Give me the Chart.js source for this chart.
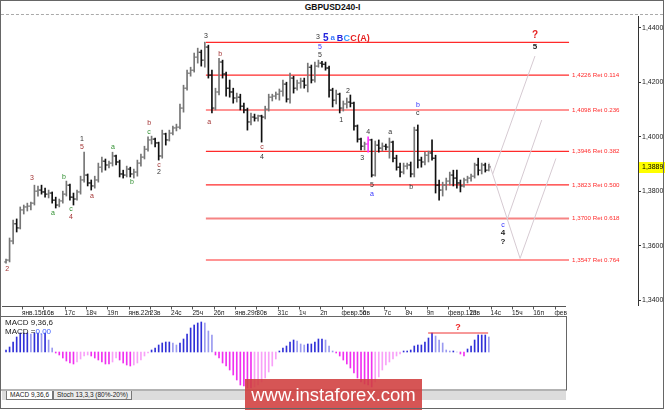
<!DOCTYPE html>
<html>
<head>
<meta charset="utf-8">
<script src="https://cdn.jsdelivr.net/npm/chart.js@4.4.1/dist/chart.umd.min.js"></script>
<style>
    html, body { margin: 0; padding: 0; background: #fff; }
    #wrap { position: relative; width: 665px; height: 410px; overflow: hidden; background: #fff; font-family: "Liberation Sans", Arial, sans-serif; }
    canvas { position: absolute; display: block; }
    #mainChart { left: 0; top: 15px; width: 665px; height: 291px; }
    #macdChart { left: 0; top: 305px; width: 567px; height: 86px; }
    #title { position: absolute; left: 0; top: 2px; width: 665px; text-align: center; font-weight: bold; font-size: 8.5px; color: #111; }
    #dash { position: absolute; left: 1px; top: 14px; width: 662px; border-top: 1px dashed #aaa; }
    #frame { position: absolute; left: 0; top: 0; width: 662px; height: 407px; border: 1px solid #666; }
    .macdTxt { position: absolute; left: 5px; font-size: 8px; color: #222; white-space: nowrap; }
    .macdTxt span { color: #3a5cff; }
    #tabs { position: absolute; left: 2px; top: 391px; width: 564px; height: 9px; background: #dcdcdc; font-size: 6.5px; line-height: 8px; white-space: nowrap; }
    .tab { display: inline-block; height: 8px; padding: 0 3px; border: 1px solid #777; border-top: none; background: #ececec; color: #222; vertical-align: top; }
    .tab.on { background: #fff; margin-left: 4px; }
    #wm { position: absolute; left: 245px; top: 379px; width: 177px; height: 31px; background: rgba(208, 62, 62, 0.88); color: #fff; font-size: 18.5px; line-height: 31px; text-align: center; }
</style>
</head>
<body>
<div id="wrap">
    <div id="title">GBPUSD240-I</div>
    <div id="dash"></div>
    <canvas id="mainChart" width="665" height="291"></canvas>
    <canvas id="macdChart" width="567" height="86"></canvas>
    <div class="macdTxt" style="top:318px">MACD 9,36,6</div>
    <div class="macdTxt" style="top:327px">MACD =<span>0,00</span></div>
    <div id="tabs"><span class="tab on">MACD 9,36,6</span><span class="tab">Stoch 13,3,3 (80%-20%)</span></div>
    <div id="wm">www.instaforex.com</div>
    <div id="frame"></div>
</div>
<script>
const FONT = '"Liberation Sans", Arial, sans-serif';

// 4h bars, first one is the 2nd bar of Jan 12 (bar index -5, Jan 15 00:00 = 0)
const FIRST_BAR = -5;

const opens = [
    1.3540, 1.3547, 1.3617, 1.3680, 1.3665,
    1.3731, 1.3742, 1.3745, 1.3756, 1.3800, 1.3804,
    1.3797, 1.3789, 1.3793, 1.3767, 1.3749, 1.3764,
    1.3789, 1.3822, 1.3778, 1.3771, 1.3797, 1.3841,
    1.3859, 1.3830, 1.3819, 1.3841, 1.3888, 1.3910,
    1.3896, 1.3903, 1.3929, 1.3907, 1.3863, 1.3859,
    1.3881, 1.3863, 1.3870, 1.3903, 1.3925, 1.3954,
    1.3988, 1.3991, 1.3977, 1.3929, 1.4010, 1.3988,
    1.4013, 1.4032, 1.4035, 1.4105, 1.4178, 1.4233,
    1.4244, 1.4292, 1.4310, 1.4281, 1.4329, 1.4226,
    1.4105, 1.4164, 1.4274, 1.4230, 1.4178, 1.4164,
    1.4142, 1.4145, 1.4112, 1.4098, 1.4054, 1.4072,
    1.4068, 1.4076, 1.4072, 1.4101, 1.4145, 1.4149,
    1.4156, 1.4167, 1.4193, 1.4138, 1.4215, 1.4178,
    1.4197, 1.4204, 1.4189, 1.4255, 1.4208, 1.4259,
    1.4270, 1.4266, 1.4252, 1.4171, 1.4134, 1.4156,
    1.4105, 1.4120, 1.4127, 1.4123, 1.4039, 1.3991,
    1.3965, 1.3973, 1.3988, 1.3859, 1.3969, 1.3958,
    1.3965, 1.3962, 1.3980, 1.3921, 1.3888, 1.3870,
    1.3892, 1.3896, 1.3863, 1.4024, 1.3914, 1.3907,
    1.3932, 1.3940, 1.3921, 1.3822, 1.3804, 1.3822,
    1.3837, 1.3859, 1.3848, 1.3830, 1.3819, 1.3841,
    1.3848, 1.3855, 1.3896, 1.3877, 1.3896, 1.3877
];
const highs = [
    1.3551, 1.3628, 1.3694, 1.3698, 1.3742,
    1.3749, 1.3756, 1.3760, 1.3822, 1.3819, 1.3822,
    1.3811, 1.3804, 1.3797, 1.3778, 1.3771, 1.3800,
    1.3837, 1.3826, 1.3793, 1.3804, 1.3855, 1.3943,
    1.3863, 1.3841, 1.3855, 1.3903, 1.3925, 1.3918,
    1.3910, 1.3943, 1.3932, 1.3914, 1.3877, 1.3892,
    1.3888, 1.3881, 1.3914, 1.3936, 1.3965, 1.3999,
    1.4002, 1.3995, 1.3980, 1.4024, 1.4013, 1.4024,
    1.4039, 1.4046, 1.4120, 1.4189, 1.4244, 1.4255,
    1.4307, 1.4325, 1.4318, 1.4347, 1.4336, 1.4244,
    1.4178, 1.4288, 1.4281, 1.4237, 1.4208, 1.4178,
    1.4160, 1.4156, 1.4123, 1.4105, 1.4087, 1.4083,
    1.4079, 1.4079, 1.4112, 1.4156, 1.4156, 1.4164,
    1.4175, 1.4208, 1.4200, 1.4233, 1.4222, 1.4208,
    1.4215, 1.4215, 1.4270, 1.4263, 1.4274, 1.4281,
    1.4277, 1.4274, 1.4259, 1.4178, 1.4171, 1.4160,
    1.4131, 1.4142, 1.4153, 1.4127, 1.4043, 1.3995,
    1.3980, 1.3999, 1.3991, 1.3984, 1.3988, 1.3977,
    1.3973, 1.3995, 1.3984, 1.3932, 1.3903, 1.3903,
    1.3903, 1.3907, 1.4035, 1.4043, 1.3925, 1.3943,
    1.3947, 1.3988, 1.3932, 1.3841, 1.3833, 1.3848,
    1.3870, 1.3877, 1.3877, 1.3841, 1.3848, 1.3855,
    1.3863, 1.3903, 1.3921, 1.3903, 1.3903, 1.3899
];
const lows = [
    1.3536, 1.3540, 1.3606, 1.3650, 1.3661,
    1.3716, 1.3727, 1.3731, 1.3749, 1.3782, 1.3789,
    1.3778, 1.3775, 1.3756, 1.3738, 1.3742, 1.3756,
    1.3782, 1.3767, 1.3749, 1.3767, 1.3789, 1.3833,
    1.3819, 1.3804, 1.3811, 1.3833, 1.3870, 1.3877,
    1.3885, 1.3892, 1.3896, 1.3852, 1.3848, 1.3852,
    1.3852, 1.3848, 1.3855, 1.3892, 1.3918, 1.3947,
    1.3973, 1.3962, 1.3914, 1.3921, 1.3969, 1.3984,
    1.4006, 1.4021, 1.4028, 1.4090, 1.4171, 1.4222,
    1.4237, 1.4270, 1.4259, 1.4255, 1.4215, 1.4087,
    1.4098, 1.4153, 1.4215, 1.4149, 1.4145, 1.4123,
    1.4127, 1.4098, 1.4087, 1.4024, 1.4043, 1.4057,
    1.4057, 1.3980, 1.4065, 1.4094, 1.4131, 1.4138,
    1.4134, 1.4149, 1.4127, 1.4123, 1.4160, 1.4171,
    1.4178, 1.4178, 1.4164, 1.4197, 1.4200, 1.4255,
    1.4255, 1.4244, 1.4145, 1.4109, 1.4120, 1.4087,
    1.4094, 1.4105, 1.4109, 1.4024, 1.3980, 1.3951,
    1.3951, 1.3943, 1.3852, 1.3855, 1.3943, 1.3947,
    1.3951, 1.3921, 1.3907, 1.3877, 1.3852, 1.3863,
    1.3881, 1.3852, 1.3852, 1.3885, 1.3888, 1.3896,
    1.3907, 1.3914, 1.3793, 1.3767, 1.3782, 1.3804,
    1.3822, 1.3819, 1.3811, 1.3797, 1.3815, 1.3830,
    1.3837, 1.3848, 1.3859, 1.3863, 1.3870, 1.3874
];
const closes = [
    1.3547, 1.3617, 1.3680, 1.3665, 1.3731,
    1.3742, 1.3745, 1.3756, 1.3800, 1.3804, 1.3797,
    1.3789, 1.3793, 1.3767, 1.3749, 1.3764, 1.3789,
    1.3822, 1.3778, 1.3771, 1.3797, 1.3841, 1.3859,
    1.3830, 1.3819, 1.3841, 1.3888, 1.3910, 1.3896,
    1.3903, 1.3929, 1.3907, 1.3863, 1.3859, 1.3881,
    1.3863, 1.3870, 1.3903, 1.3925, 1.3954, 1.3988,
    1.3991, 1.3977, 1.3929, 1.4010, 1.3988, 1.4013,
    1.4032, 1.4035, 1.4105, 1.4178, 1.4233, 1.4244,
    1.4292, 1.4310, 1.4281, 1.4329, 1.4226, 1.4105,
    1.4164, 1.4274, 1.4230, 1.4178, 1.4164, 1.4142,
    1.4145, 1.4112, 1.4098, 1.4054, 1.4072, 1.4068,
    1.4076, 1.4072, 1.4101, 1.4145, 1.4149, 1.4156,
    1.4167, 1.4193, 1.4138, 1.4215, 1.4178, 1.4197,
    1.4204, 1.4189, 1.4255, 1.4208, 1.4259, 1.4270,
    1.4266, 1.4252, 1.4171, 1.4134, 1.4156, 1.4105,
    1.4120, 1.4127, 1.4123, 1.4039, 1.3991, 1.3965,
    1.3973, 1.3988, 1.3859, 1.3969, 1.3958, 1.3965,
    1.3962, 1.3980, 1.3921, 1.3888, 1.3870, 1.3892,
    1.3896, 1.3863, 1.4024, 1.3914, 1.3907, 1.3932,
    1.3940, 1.3921, 1.3822, 1.3804, 1.3822, 1.3837,
    1.3859, 1.3848, 1.3830, 1.3819, 1.3841, 1.3848,
    1.3855, 1.3896, 1.3877, 1.3896, 1.3877, 1.3889
];
const macdValues = [
    0.0002, 0.0005, 0.0010, 0.0015, 0.0019,
    0.0019, 0.0019, 0.0018, 0.0019, 0.0019, 0.0018,
    0.0019, 0.0012, 0.0004, -0.0001, -0.0003, -0.0006,
    -0.0009, -0.0011, -0.0012, -0.0010, -0.0007, -0.0004,
    -0.0003, -0.0004, -0.0006, -0.0008, -0.0010, -0.0012,
    -0.0012, -0.0010, -0.0006, -0.0008, -0.0011, -0.0013,
    -0.0014, -0.0013, -0.0011, -0.0008, -0.0004, -0.0001,
    0.0002, 0.0004, 0.0007, 0.0009, 0.0010, 0.0010,
    0.0009, 0.0007, 0.0009, 0.0013, 0.0018, 0.0024,
    0.0027, 0.0029, 0.0030, 0.0029, 0.0021, 0.0017,
    -0.0003, -0.0006, -0.0011, -0.0014, -0.0018, -0.0023,
    -0.0028, -0.0033, -0.0034, -0.0036, -0.0036, -0.0035,
    -0.0033, -0.0030, -0.0026, -0.0020, -0.0014, -0.0007,
    0.0001, 0.0004, 0.0006, 0.0010, 0.0012, 0.0011,
    0.0008, 0.0007, 0.0008, 0.0008, 0.0010, 0.0013,
    0.0013, 0.0012, 0.0006, 0.0001, -0.0001, -0.0004,
    -0.0008, -0.0012, -0.0016, -0.0021, -0.0026, -0.0030,
    -0.0032, -0.0033, -0.0035, -0.0030, -0.0025, -0.0018,
    -0.0013, -0.0010, -0.0007, -0.0004, -0.0002, 0.0001,
    0.0001, 0.0002, 0.0006, 0.0007, 0.0007, 0.0010,
    0.0014, 0.0019, 0.0016, 0.0012, 0.0009, 0.0002,
    0.0001, 0.0001, 0.0000, -0.0002, -0.0004, 0.0003,
    0.0006, 0.0012, 0.0017, 0.0017, 0.0017, 0.0015
];

// one tick per trading day (6 bars)
const dayTicks = [0, 6, 12, 18, 24, 30, 36, 42, 48, 54, 60, 66, 72, 78, 84, 90, 96, 102, 108, 114, 120, 126, 132, 138, 144, 150];
const dayLabels = ['янв.15п', '16в', '17с', '18ч', '19п', 'янв.22п', '23в', '24с', '25ч', '26п', 'янв.29п', '30в', '31с', '1ч', '2п',
    'февр.5п', '6в', '7с', '8ч', '9п', 'февр.12п', '13в', '14с', '15ч', '16п', 'февр.19п'];
const priceTicks = [1.34, 1.36, 1.38, 1.40, 1.42, 1.44];

// fibo retracement grid
const fibLevels = [1.4346, 1.4226, 1.4098, 1.3946, 1.3823, 1.3700, 1.3547];
const fibRatios = ['', '0.114', '0.236', '0.382', '0.500', '0.618', '0.764'];
const fibFrom = 51.8;
const fibTo = 154.1;

// forecast zig-zags (bar index, price)
const forecastPaths = [
    [[144.5, 1.4296], [132.6, 1.3863]],
    [[146.4, 1.4061], [136.7, 1.3697]],
    [[131.5, 1.3906], [140.3, 1.3553], [150.4, 1.3920]]
];

// wave marks: text, bar index, price, style
const waveLabels = [
    ['2', -4.2, 1.3514, 'r'], ['3', 2.8, 1.3848, 'r'], ['a', 8.7, 1.3720, 'g'], ['b', 11.8, 1.3852, 'g'],
    ['c', 13.8, 1.3734, 'g'], ['4', 13.8, 1.3705, 'r'], ['1', 16.9, 1.3991, 'k'], ['5', 16.9, 1.3962, 'r'],
    ['a', 19.7, 1.3782, 'r'], ['a', 25.6, 1.3962, 'g'], ['b', 31.0, 1.3833, 'g'], ['b', 35.8, 1.4050, 'r'],
    ['c', 35.8, 1.4017, 'g'], ['c', 38.6, 1.3896, 'r'], ['2', 38.6, 1.3870, 'k'], ['3', 51.8, 1.4369, 'k'],
    ['a', 52.7, 1.4054, 'r'], ['b', 55.8, 1.4303, 'r'], ['c', 67.6, 1.3962, 'r'], ['4', 67.6, 1.3925, 'k'],
    ['3', 83.4, 1.4365, 'k'], ['5', 83.9, 1.4329, 'b'], ['5', 83.9, 1.4299, 'k'],
    ['5', 85.6, 1.4362, 'F'], ['a', 87.5, 1.4362, 'a'], ['B', 89.6, 1.4362, 'B'], ['C', 91.5, 1.4362, 'C'],
    ['C', 93.4, 1.4362, 'H'], ['(A)', 96.2, 1.4362, 'H'],
    ['1', 89.9, 1.4061, 'k'], ['2', 91.8, 1.4167, 'k'], ['3', 95.8, 1.3921, 'k'], ['4', 97.5, 1.4017, 'k'],
    ['5', 98.6, 1.3822, 'k'], ['a', 98.6, 1.3789, 'b'], ['a', 103.7, 1.4017, 'k'], ['b', 109.6, 1.3815, 'k'],
    ['b', 111.5, 1.4116, 'b'], ['c', 111.5, 1.4087, 'k'],
    ['?', 144.5, 1.4373, 'R'], ['5', 144.5, 1.4329, 'K'],
    ['c', 135.5, 1.3676, 'b'], ['4', 135.5, 1.3646, 'K'], ['?', 135.5, 1.3613, 'K']
];

// MACD resistance line and its question mark
const macdLine = [[114.4, 0.0019], [131.3, 0.0019]];
const macdMark = [122.8, 0.0024];

const labelStyles = {
    r: { font: '7px ' + FONT, color: '#a33333' },
    g: { font: '7px ' + FONT, color: '#2f8f2f' },
    k: { font: '7px ' + FONT, color: '#333333' },
    b: { font: '7px ' + FONT, color: '#3333ff' },
    a: { font: 'bold 8px ' + FONT, color: '#3a7bff' },
    F: { font: 'bold 10px ' + FONT, color: '#2222dd' },
    B: { font: 'bold 9px ' + FONT, color: '#2222dd' },
    C: { font: 'bold 9px ' + FONT, color: '#3399ff' },
    H: { font: 'bold 9px ' + FONT, color: '#e62222' },
    R: { font: 'bold 10px ' + FONT, color: '#e62222' },
    K: { font: 'bold 8px ' + FONT, color: '#222222' }
};

// pixel geometry of the reference: 3.55px per bar, Jan 15 tick at x=22, plot starts at x=2
const BAR_PX = 3.55;
const X_MIN = -20 / BAR_PX;
const MAIN_W = 636;
const MACD_W = 564;

const priceFmt = v => v.toFixed(4).replace('.', ',');
const barX = k => FIRST_BAR + k + 0.5;

const upColor = '#767676';
const downColor = '#101010';
const barColors = closes.map((c, k) => {
    if (barX(k) === 97.5) return '#ff33ff';
    return c >= opens[k] ? upColor : downColor;
});

const mainLabels = {
    id: 'mainLabels',
    afterDatasetsDraw(chart) {
        const { ctx, chartArea } = chart;
        const x = chart.scales.x, y = chart.scales.y;
        ctx.save();
        ctx.font = '6.2px ' + FONT;
        ctx.fillStyle = '#ff2a2a';
        ctx.textAlign = 'left';
        ctx.textBaseline = 'middle';
        fibLevels.forEach((lv, k) => {
            if (!fibRatios[k]) return;
            ctx.fillText(priceFmt(lv) + ' Ret ' + fibRatios[k], x.getPixelForValue(fibTo) + 3, y.getPixelForValue(lv));
        });

        ctx.textAlign = 'center';
        waveLabels.forEach(([t, xv, yv, s]) => {
            ctx.font = labelStyles[s].font;
            ctx.fillStyle = labelStyles[s].color;
            ctx.fillText(t, x.getPixelForValue(xv), y.getPixelForValue(yv));
        });

        // last price box on the axis
        const last = closes[closes.length - 1];
        const py = Math.round(y.getPixelForValue(last));
        ctx.fillStyle = '#ffff00';
        ctx.fillRect(chartArea.right + 1, py - 5, 26, 11);
        ctx.fillStyle = '#000';
        ctx.textAlign = 'left';
        ctx.font = '7px ' + FONT;
        ctx.fillText(priceFmt(last), chartArea.right + 4, py + 0.5);
        ctx.restore();
    }
};

const datasetsMain = [
    {
        type: 'bar',
        data: highs.map((h, k) => ({ x: barX(k), y: [lows[k], h] })),
        backgroundColor: barColors,
        borderWidth: 0,
        barThickness: 1
    },
    {
        type: 'scatter',
        data: opens.map((o, k) => ({ x: barX(k) - 0.3, y: o })),
        pointStyle: 'line', pointRadius: 1, pointBorderWidth: 1,
        borderColor: barColors, pointBorderColor: barColors
    },
    {
        type: 'scatter',
        data: closes.map((c, k) => ({ x: barX(k) + 0.3, y: c })),
        pointStyle: 'line', pointRadius: 1, pointBorderWidth: 1,
        borderColor: barColors, pointBorderColor: barColors
    }
];
forecastPaths.forEach(path => {
    datasetsMain.push({
        type: 'line',
        data: path.map(p => ({ x: p[0], y: p[1] })),
        borderColor: '#d6cad2', borderWidth: 1, pointRadius: 0, tension: 0
    });
});
fibLevels.forEach(lv => {
    const soft = lv === 1.3700;
    datasetsMain.push({
        type: 'line',
        data: [{ x: fibFrom, y: lv }, { x: fibTo, y: lv }],
        borderColor: soft ? 'rgba(245, 110, 110, 0.85)' : '#ff2a2a',
        borderWidth: soft ? 2 : 1.1,
        pointRadius: 0
    });
});

new Chart(document.getElementById('mainChart'), {
    type: 'bar',
    data: { datasets: datasetsMain },
    options: {
        responsive: false,
        animation: false,
        devicePixelRatio: 1,
        events: [],
        layout: { padding: { left: 2, top: 1, right: 0, bottom: 1 }, autoPadding: false },
        plugins: { legend: { display: false }, tooltip: { enabled: false } },
        scales: {
            x: { type: 'linear', display: false, offset: false, min: X_MIN, max: X_MIN + MAIN_W / BAR_PX },
            y: {
                position: 'right',
                min: 1.3382,
                max: 1.4443,
                afterBuildTicks: s => { s.ticks = priceTicks.map(v => ({ value: v })); },
                afterFit: s => { s.width = 27; s.paddingTop = 0; s.paddingBottom = 0; },
                ticks: { callback: v => priceFmt(v), font: { size: 7, family: FONT }, color: '#222', padding: 1 },
                grid: { drawOnChartArea: false, tickLength: 3, color: '#333' },
                border: { display: true, color: '#333' }
            }
        }
    },
    plugins: [mainLabels]
});

// MACD pane with the date strip on top
const macdColors = macdValues.map((v, k) => {
    const prev = k > 0 ? macdValues[k - 1] : 0;
    if (v >= 0) return v >= prev ? '#3030d8' : '#9a9af0';
    return v <= prev ? '#f030f0' : '#f8a0f8';
});

const macdDecor = {
    id: 'macdDecor',
    afterDraw(chart) {
        const { ctx, chartArea } = chart;
        const x = chart.scales.x, y = chart.scales.y;
        ctx.save();
        ctx.strokeStyle = '#555';
        ctx.lineWidth = 1;
        ctx.beginPath();
        ctx.moveTo(chartArea.left, 1.5);
        ctx.lineTo(chartArea.right, 1.5);
        x.ticks.forEach(t => {
            const px = Math.round(x.getPixelForValue(t.value)) + 0.5;
            ctx.moveTo(px, 1.5);
            ctx.lineTo(px, 4.5);
        });
        ctx.stroke();
        ctx.strokeStyle = '#666';
        ctx.strokeRect(0.5, chartArea.top - 0.5, chartArea.right, chartArea.bottom - chartArea.top + 0.5);

        ctx.fillStyle = '#ee2222';
        ctx.font = 'bold 9px ' + FONT;
        ctx.textAlign = 'center';
        ctx.textBaseline = 'middle';
        ctx.fillText('?', x.getPixelForValue(macdMark[0]), y.getPixelForValue(macdMark[1]));
        ctx.restore();
    }
};

new Chart(document.getElementById('macdChart'), {
    type: 'bar',
    data: {
        datasets: [
            {
                type: 'line',
                data: macdLine.map(p => ({ x: p[0], y: p[1] })),
                borderColor: '#ee3333', borderWidth: 1, pointRadius: 0
            },
            {
                type: 'bar',
                data: macdValues.map((v, k) => ({ x: barX(k), y: v })),
                backgroundColor: macdColors,
                borderWidth: 0,
                barThickness: 1
            }
        ]
    },
    options: {
        responsive: false,
        animation: false,
        devicePixelRatio: 1,
        events: [],
        layout: { padding: { left: 2, top: 0, right: 1, bottom: 1 }, autoPadding: false },
        plugins: { legend: { display: false }, tooltip: { enabled: false } },
        scales: {
            x: {
                type: 'linear',
                position: 'top',
                offset: false,
                min: X_MIN,
                max: X_MIN + MACD_W / BAR_PX,
                afterBuildTicks: s => { s.ticks = dayTicks.map(v => ({ value: v })); },
                afterFit: s => { s.height = 12; s.paddingLeft = 0; s.paddingRight = 0; },
                ticks: {
                    autoSkip: false,
                    maxRotation: 0,
                    align: 'start',
                    padding: 0,
                    font: { size: 6.5, family: FONT },
                    color: '#222',
                    callback: (v, i) => dayLabels[i]
                },
                grid: { drawOnChartArea: false, drawTicks: false },
                border: { display: false }
            },
            y: { display: false, min: -0.0038, max: 0.0035 }
        }
    },
    plugins: [macdDecor]
});
</script>
</body>
</html>
